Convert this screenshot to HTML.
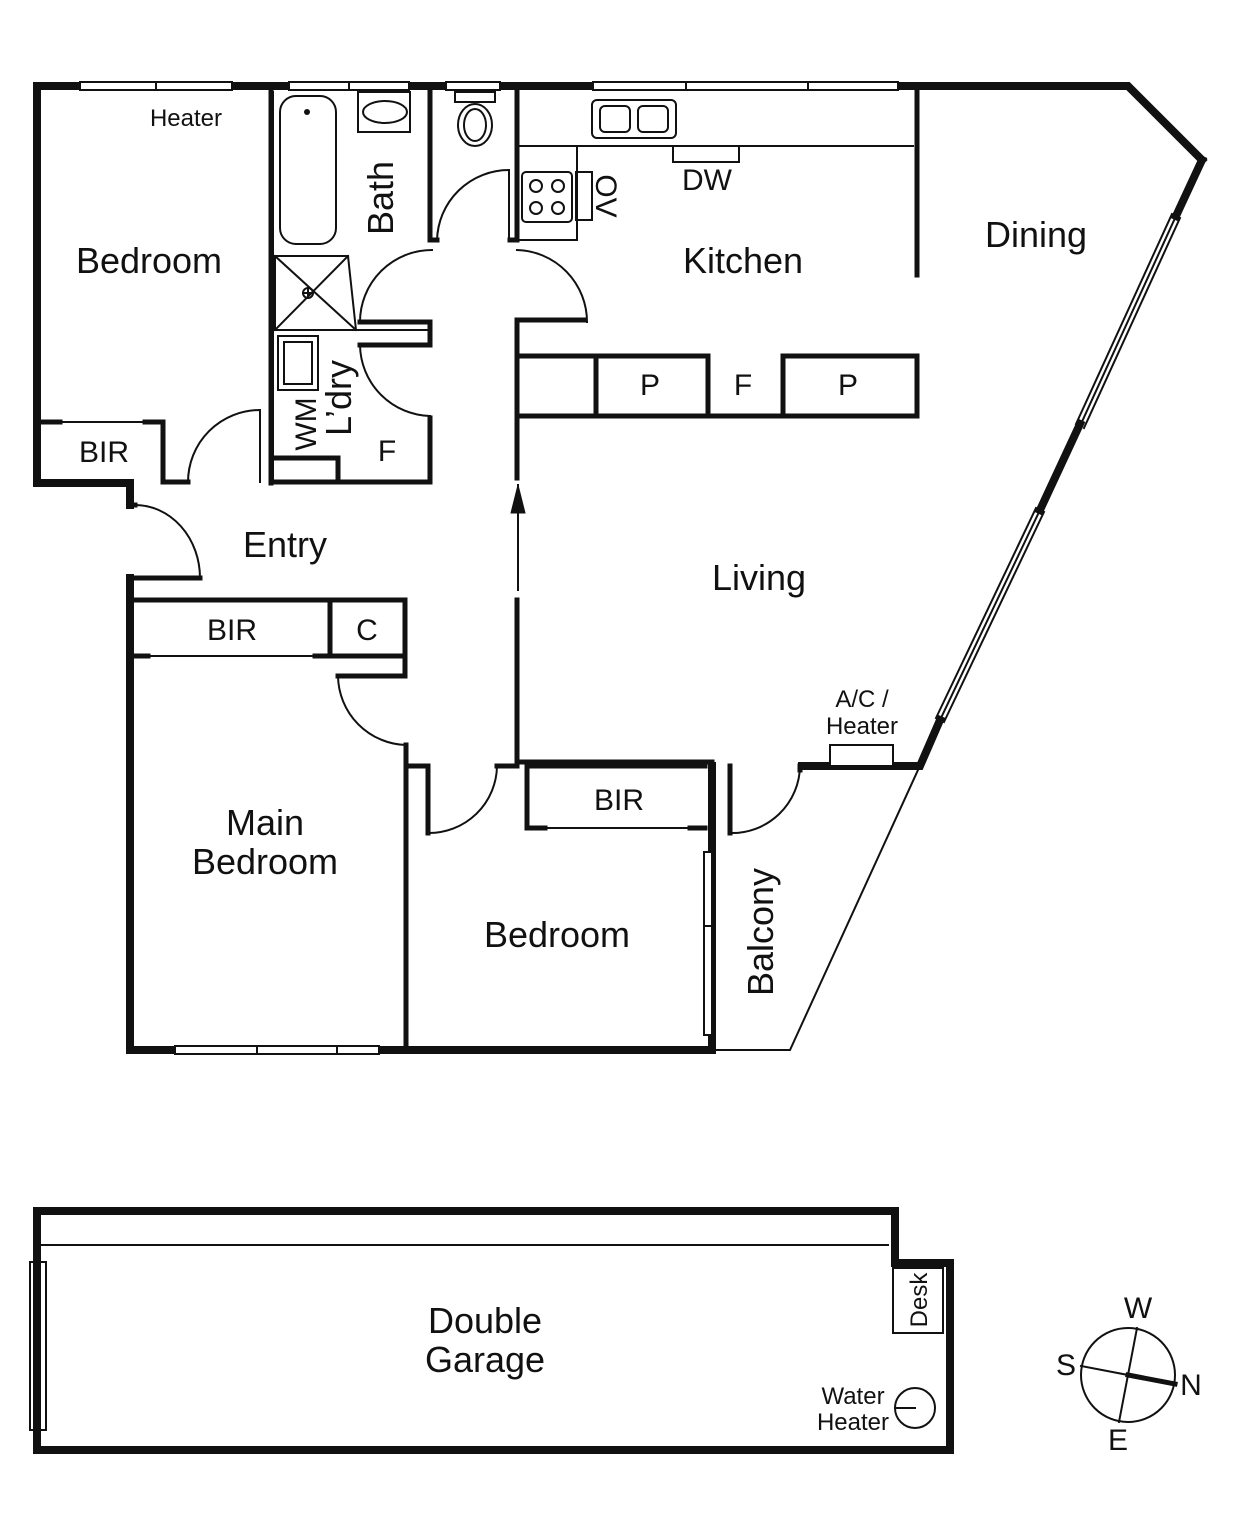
<!DOCTYPE html><html><head><style>html,body{margin:0;background:#fff}svg{display:block}text{font-family:"Liberation Sans",sans-serif;fill:#111}</style></head><body>
<svg width="1240" height="1536" viewBox="0 0 1240 1536" xmlns="http://www.w3.org/2000/svg">
<g fill="none" stroke="#111" stroke-linecap="square">
<g stroke-width="8">
<path d="M37 483 V86 H1128 L1202 160"/>
<path d="M1202 160 L1176 216"/>
<path d="M1080 424 L1040 510"/>
<path d="M940 720 L920 766 H802"/>
<path d="M37 483 H130 V505"/>
<path d="M130 578 V1050 H712 V766"/>
</g>
<g fill="#fff" stroke-width="2">
<rect x="80" y="82" width="152" height="8"/><line x1="156" y1="82" x2="156" y2="90"/>
<rect x="289" y="82" width="120" height="8"/><line x1="349" y1="82" x2="349" y2="90"/>
<rect x="446" y="82" width="54" height="8"/>
<rect x="593" y="82" width="305" height="8"/><line x1="686" y1="82" x2="686" y2="90"/><line x1="808" y1="82" x2="808" y2="90"/>
<rect x="175" y="1046" width="204" height="8"/><line x1="257" y1="1046" x2="257" y2="1054"/><line x1="337" y1="1046" x2="337" y2="1054"/>
<rect x="704" y="852" width="8" height="183"/><line x1="704" y1="926" x2="712" y2="926"/>
</g>
<g stroke-width="2">
<path d="M1172 214 L1076 424 M1180 218 L1084 428 M1176 216 L1080 426"/>
<path d="M1036 508 L936 718 M1044 512 L944 722 M1040 510 L940 720"/>
</g>
<g stroke-width="5">
<path d="M271 86 V483"/>
<path d="M430 86 V240 H437"/>
<path d="M510 240 H517 V86"/>
<path d="M517 320 V478 M517 600 V762 H712"/>
<path d="M517 320 H585"/>
<path d="M430 322 H360 M430 322 V345 H360"/>
<path d="M917 90 V275"/>
<path d="M520 416 H917 M596 416 V356 H708 V416 M783 416 V356 H917 V416"/>
<path d="M520 356 H596"/>
<path d="M271 482 H338 V458 H275"/>
<path d="M338 482 H430 V418"/>
<path d="M188 482 H163 V422 H145"/>
<path d="M42 422 H60"/>
<path d="M135 600 H405 V676 H338 M135 656 H148 M315 656 H405 M330 600 V656"/>
<path d="M406 745 V1050 M406 766 H428 V833 M497 766 H517"/>
<path d="M527 766 V828 H545 M690 828 H705 M527 766 H705"/>
<path d="M730 766 V833 M800 766 V770"/>
<path d="M130 505 H135 M130 578 H200"/>
</g>
<g stroke-width="2">
<path d="M273 92 V330 H430 M273 330 V482"/>
<path d="M60 422 H145 M148 656 H315"/>
<path d="M545 828 H690"/>
<path d="M712 1050 H790 L918 770"/>
<rect x="830" y="745" width="63" height="21" fill="#fff"/>
<path d="M520 146 H913 M577 146 V240 H520"/>
<rect x="673" y="146" width="66" height="16"/>
<rect x="576" y="172" width="16" height="48"/>
<rect x="522" y="172" width="50" height="50" rx="4"/>
<circle cx="536" cy="186" r="6"/><circle cx="558" cy="186" r="6"/><circle cx="536" cy="208" r="6"/><circle cx="558" cy="208" r="6"/>
<rect x="592" y="100" width="84" height="38" rx="5"/><rect x="600" y="106" width="30" height="26" rx="5"/><rect x="638" y="106" width="30" height="26" rx="5"/>
<rect x="280" y="96" width="56" height="148" rx="16"/>
<path d="M275 256 H348 L356 330 H275 Z M275 256 L356 330 M348 256 L275 330"/>
<circle cx="308" cy="293" r="5"/><path d="M303 293 H313 M308 288 V298"/>
<rect x="358" y="92" width="52" height="40"/><ellipse cx="385" cy="112" rx="22" ry="11"/>
<rect x="455" y="92" width="40" height="10"/><ellipse cx="475" cy="125" rx="17" ry="21"/><ellipse cx="475" cy="125" rx="11" ry="16"/>
<rect x="278" y="336" width="40" height="54"/><rect x="284" y="342" width="28" height="42"/>
<path d="M40 1245 H888"/>
<rect x="30" y="1262" width="16" height="168" fill="#fff"/>
<rect x="893" y="1268" width="50" height="65"/>
<circle cx="915" cy="1408" r="20"/><path d="M895 1408 H915"/>
<path d="M188 482 A72 72 0 0 1 260 410 V482"/>
<path d="M135 505 A65 73 0 0 1 200 578"/>
<path d="M437 240 A72 72 0 0 1 509 170 V240"/>
<path d="M360 322 A72 72 0 0 1 432 250"/>
<path d="M517 250 A72 72 0 0 1 587 322"/>
<path d="M360 345 A72 72 0 0 0 430 416"/>
<path d="M338 676 A70 70 0 0 0 406 745"/>
<path d="M428 833 A68 68 0 0 0 497 766"/>
<path d="M730 833 A68 68 0 0 0 800 766"/>
<path d="M518 485 V590"/>
<circle cx="1128" cy="1375" r="47"/>
<path d="M1081 1366 L1175 1384 M1137 1328 L1119 1422"/>
</g>
<path d="M1128 1375 L1175 1384" stroke="#111" stroke-width="5"/>
<path d="M518 485 L511 513 H525 Z" fill="#111"/>
<path d="M37 1211 H895 V1263 H950 V1450 H37 Z" stroke-width="8"/>
<circle cx="307" cy="112" r="3" fill="#111" stroke="none"/>
</g>
<g font-size="36" text-anchor="middle">
<text x="149" y="273">Bedroom</text>
<text x="743" y="273">Kitchen</text>
<text x="1036" y="247">Dining</text>
<text x="285" y="557">Entry</text>
<text x="759" y="590">Living</text>
<text x="265" y="835">Main</text>
<text x="265" y="874">Bedroom</text>
<text x="557" y="947">Bedroom</text>
<text x="485" y="1333">Double</text>
<text x="485" y="1372">Garage</text>
<text transform="translate(393 198) rotate(-90)">Bath</text>
<text transform="translate(351 398) rotate(-90)">L’dry</text>
<text transform="translate(773 932) rotate(-90)">Balcony</text>
</g>
<g font-size="30" text-anchor="middle">
<text x="104" y="462">BIR</text><text x="232" y="640">BIR</text><text x="367" y="640">C</text>
<text x="619" y="810">BIR</text><text x="650" y="395">P</text><text x="743" y="395">F</text><text x="848" y="395">P</text>
<text x="387" y="461">F</text><text x="707" y="190">DW</text>
<text transform="translate(316 424) rotate(-90)">WM</text>
<text transform="translate(596 196) rotate(90)">OV</text>
<text x="1138" y="1318">W</text><text x="1066" y="1375">S</text><text x="1191" y="1395">N</text><text x="1118" y="1450">E</text>
</g>
<g font-size="24" text-anchor="middle">
<text x="186" y="126">Heater</text>
<text x="862" y="707">A/C /</text><text x="862" y="734">Heater</text>
<text x="853" y="1404">Water</text><text x="853" y="1430">Heater</text>
<text transform="translate(927 1300) rotate(-90)">Desk</text>
</g>
</svg></body></html>
